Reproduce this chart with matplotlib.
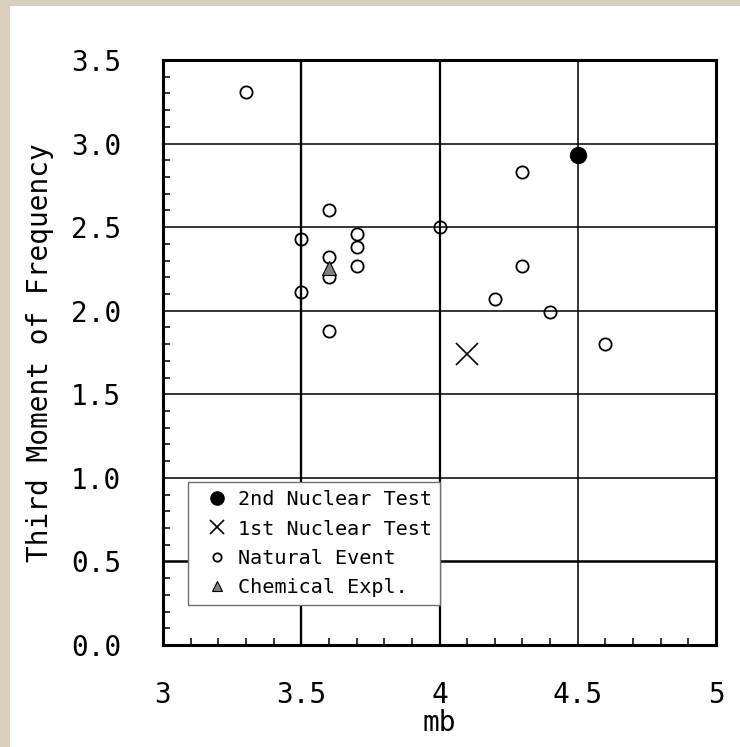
import matplotlib
matplotlib.use('Agg')
import matplotlib.pyplot as plt
from matplotlib.ticker import MultipleLocator, FixedLocator, FixedFormatter
from matplotlib.lines import Line2D
import matplotlib.patches as mpatches

# ---- data ----
natural_mb = [3.3, 3.5, 3.5, 3.6, 3.6, 3.6, 3.6, 3.7, 3.7, 3.7, 4.0, 4.2, 4.3, 4.3, 4.4, 4.6]
natural_tm = [3.31, 2.43, 2.11, 2.60, 2.32, 2.20, 1.88, 2.46, 2.38, 2.27, 2.50, 2.07, 2.83, 2.27, 1.99, 1.80]
chem_mb = [3.6]
chem_tm = [2.255]
nuc1_mb = [4.1]
nuc1_tm = [1.74]
nuc2_mb = [4.5]
nuc2_tm = [2.93]

x_ticks = [3.0, 3.5, 4.0, 4.5, 5.0]
x_tick_labels = ['3', '3.5', '4', '4.5', '5']
y_ticks = [0.0, 0.5, 1.0, 1.5, 2.0, 2.5, 3.0, 3.5]
y_tick_labels = ['0.0', '0.5', '1.0', '1.5', '2.0', '2.5', '3.0', '3.5']
legend_labels = ['2nd Nuclear Test', '1st Nuclear Test', 'Natural Event', 'Chemical Expl.']

# grid line widths (style)
x_grid_lw = {3.5: 1.7, 4.0: 1.6, 4.5: 1.1}
y_grid_lw = {0.5: 1.8}

FONT = 'DejaVu Sans Mono'
W, H = 740, 747

fig = plt.figure(figsize=(W / 100, H / 100), dpi=100)
fig.patch.set_facecolor('#D8CFBF')
# white panel
panel = mpatches.Rectangle((10 / W, 0), 1 - 10 / W, 1 - 6 / H,
                           transform=fig.transFigure, facecolor='white',
                           edgecolor='none', zorder=-10)
fig.patches.append(panel)

L, R, T, B = 163, 716, 60, 645
ax = fig.add_axes([L / W, 1 - B / H, (R - L) / W, (B - T) / H])
ax.set_zorder(1)
ax.set_facecolor('white')
ax.set_xlim(3, 5)
ax.set_ylim(0, 3.5)

# grid
for xv in x_ticks[1:-1]:
    ax.axvline(xv, color='black', lw=x_grid_lw.get(xv, 1.3), zorder=1)
for yv in y_ticks[1:-1]:
    ax.axhline(yv, color='black', lw=y_grid_lw.get(yv, 1.1), zorder=1)

ax.xaxis.set_major_locator(FixedLocator(x_ticks))
ax.xaxis.set_major_formatter(FixedFormatter(x_tick_labels))
ax.yaxis.set_major_locator(FixedLocator(y_ticks))
ax.yaxis.set_major_formatter(FixedFormatter(y_tick_labels))
ax.xaxis.set_minor_locator(MultipleLocator(0.1))
ax.yaxis.set_minor_locator(MultipleLocator(0.1))
ax.tick_params(which='major', length=0, labelsize=20)
ax.tick_params(axis='x', which='major', pad=26)
ax.tick_params(axis='y', which='major', pad=30)
ax.tick_params(which='minor', direction='in', length=5, width=1.1, color='black')
for lab in ax.get_xticklabels() + ax.get_yticklabels():
    lab.set_fontfamily(FONT)

for s in ax.spines.values():
    s.set_linewidth(2.2)
    s.set_zorder(5)

# data
ax.plot(natural_mb, natural_tm, linestyle='none', marker='o', markersize=8.8,
        markerfacecolor='none', markeredgecolor='black', markeredgewidth=1.3,
        zorder=3)
ax.plot(chem_mb, chem_tm, linestyle='none', marker='^', markersize=9.5,
        markerfacecolor='#808080', markeredgecolor='black', markeredgewidth=0.8,
        zorder=4)
ax.plot(nuc1_mb, nuc1_tm, linestyle='none', marker='x', markersize=16,
        markeredgecolor='black', markeredgewidth=1.2, zorder=4)
ax.plot(nuc2_mb, nuc2_tm, linestyle='none', marker='o', markersize=11.5,
        markerfacecolor='black', markeredgecolor='black', zorder=4)

# legend
handles = [
    Line2D([], [], linestyle='none', marker='o', markersize=9.5, markerfacecolor='black',
           markeredgecolor='black'),
    Line2D([], [], linestyle='none', marker='x', markersize=10.5, markeredgecolor='black',
           markeredgewidth=1.2),
    Line2D([], [], linestyle='none', marker='o', markersize=6, markerfacecolor='none',
           markeredgecolor='black', markeredgewidth=1.3),
    Line2D([], [], linestyle='none', marker='^', markersize=7.5, markerfacecolor='#808080',
           markeredgecolor='black', markeredgewidth=0.8),
]
leg = ax.legend(handles, legend_labels, loc='upper left',
                bbox_to_anchor=((188 - L) / (R - L), (B - 482) / (B - T)),
                borderaxespad=0, prop={'family': FONT, 'size': 14.5},
                frameon=True, fancybox=False, framealpha=1, edgecolor='#707070',
                borderpad=0.42, handlelength=2.0, handletextpad=0.05,
                labelspacing=0.5)
leg.get_frame().set_linewidth(1.0)
leg.set_zorder(6)

ax.set_xlabel('mb', family=FONT, fontsize=20, labelpad=0)
ax.set_ylabel('Third Moment of Frequency', family=FONT, fontsize=20, labelpad=12)

fig.savefig('out.png', dpi=100, facecolor=fig.get_facecolor())
